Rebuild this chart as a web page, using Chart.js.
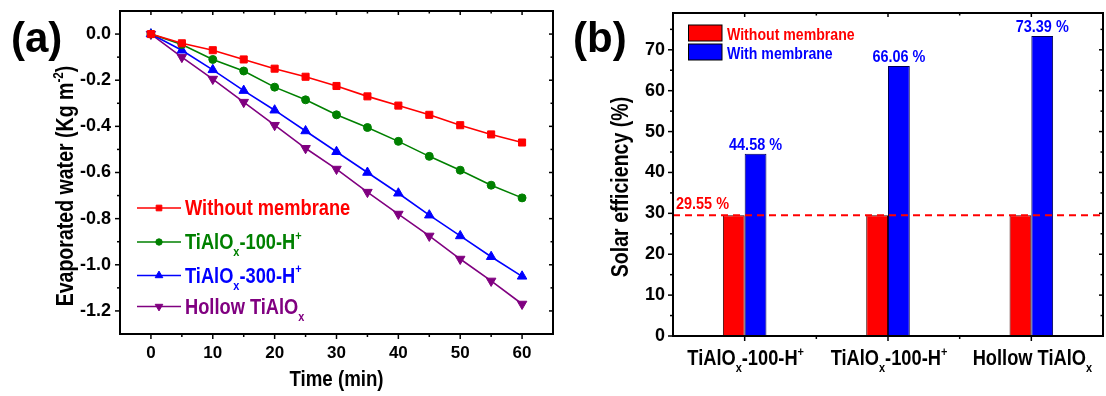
<!DOCTYPE html>
<html><head><meta charset="utf-8">
<script src="https://cdn.jsdelivr.net/npm/chart.js@4.4.1/dist/chart.umd.min.js"></script>
<style>
html,body{margin:0;padding:0;background:#fff;}
#wrap{position:relative;width:1106px;height:396px;overflow:hidden;background:#fff;}
canvas{position:absolute;top:0;}
</style>
</head><body>
<div id="wrap">
<canvas id="ca" width="560" height="396" style="left:0"></canvas>
<canvas id="cb" width="546" height="396" style="left:560px"></canvas>
</div>
<script>
// ---------- data (panel a) ----------
const times = [0, 5, 10, 15, 20, 25, 30, 35, 40, 45, 50, 55, 60];
const withoutMembrane = [0, -0.04, -0.07, -0.11, -0.15, -0.185, -0.225, -0.27, -0.31, -0.35, -0.395, -0.435, -0.47];
const tialox100 = [0, -0.045, -0.11, -0.16, -0.23, -0.285, -0.35, -0.405, -0.465, -0.53, -0.59, -0.655, -0.71];
const tialox300 = [0, -0.07, -0.155, -0.245, -0.33, -0.42, -0.51, -0.6, -0.69, -0.785, -0.875, -0.965, -1.05];
const hollowTialox = [0, -0.1, -0.195, -0.295, -0.395, -0.495, -0.585, -0.685, -0.78, -0.875, -0.975, -1.07, -1.17];
const seriesNames = ['Without membrane', 'TiAlO_x-100-H^+', 'TiAlO_x-300-H^+', 'Hollow TiAlO_x'];
const xTickValues = [0, 10, 20, 30, 40, 50, 60];
const yTickValues = [0, -0.2, -0.4, -0.6, -0.8, -1.0, -1.2];

// ---------- data (panel b) ----------
const barCategories = ['TiAlO_x-100-H^+', 'TiAlO_x-100-H^+', 'Hollow TiAlO_x'];
const barSeriesNames = ['Without membrane', 'With membrane'];
const effWithout = [29.55, 29.55, 29.55];
const effWith = [44.58, 66.06, 73.39];
const effTickValues = [0, 10, 20, 30, 40, 50, 60, 70];

const FAM = '"Liberation Sans", Arial, Helvetica, sans-serif';
Chart.defaults.font.family = FAM;
Chart.defaults.color = '#000';

// ---------- rich text helpers ----------
function richSegs(s) {
  const segs = []; let buf = ''; let i = 0;
  while (i < s.length) {
    const c = s[i];
    if ((c === '_' || c === '^') && i + 1 < s.length) {
      if (buf) { segs.push({ t: buf, m: 0 }); buf = ''; }
      let t;
      if (s[i + 1] === '{') { const j = s.indexOf('}', i); t = s.slice(i + 2, j); i = j + 1; }
      else { t = s[i + 1]; i += 2; }
      segs.push({ t, m: c === '_' ? 1 : -1 });
    } else { buf += c; i++; }
  }
  if (buf) segs.push({ t: buf, m: 0 });
  return segs;
}
function drawRich(ctx, s, x, y, size, color, align, sx) {
  const segs = richSegs(s);
  ctx.save();
  ctx.translate(x, y);
  ctx.scale(sx, 1);
  ctx.fillStyle = color;
  ctx.textBaseline = 'alphabetic';
  ctx.textAlign = 'left';
  let w = 0;
  for (const g of segs) { ctx.font = 'bold ' + (g.m ? size * 0.6 : size) + 'px ' + FAM; w += ctx.measureText(g.t).width; }
  let cx = align === 'center' ? -w / 2 : (align === 'right' ? -w : 0);
  for (const g of segs) {
    ctx.font = 'bold ' + (g.m ? size * 0.6 : size) + 'px ' + FAM;
    const dy = g.m === 1 ? size * 0.32 : (g.m === -1 ? -size * 0.42 : 0);
    ctx.fillText(g.t, cx, dy);
    cx += ctx.measureText(g.t).width;
  }
  ctx.restore();
}
function drawRotated(ctx, s, x, y, size, color, sx) {
  ctx.save(); ctx.translate(x, y); ctx.rotate(-Math.PI / 2);
  drawRich(ctx, s, 0, 0, size, color, 'center', sx);
  ctx.restore();
}
function mids(arr) { const r = []; for (let i = 0; i < arr.length - 1; i++) r.push((arr[i] + arr[i + 1]) / 2); return r; }
function noPad(s) { s.paddingTop = 0; s.paddingBottom = 0; s.paddingLeft = 0; s.paddingRight = 0; }

// ---------- frame plugin ----------
const framePlugin = {
  id: 'frame',
  afterDraw(chart, args, o) {
    const ctx = chart.ctx, a = chart.chartArea;
    const xs = chart.scales.x, ys = chart.scales.y;
    ctx.save();
    ctx.strokeStyle = '#000';
    ctx.lineWidth = 2;
    ctx.strokeRect(a.left, a.top, a.right - a.left, a.bottom - a.top);
    ctx.lineWidth = 1.5;
    const tick = (x1, y1, x2, y2) => { ctx.beginPath(); ctx.moveTo(x1, y1); ctx.lineTo(x2, y2); ctx.stroke(); };
    o.xMajor.forEach(v => { const p = xs.getPixelForValue(v); tick(p, a.bottom, p, a.bottom + 5); tick(p, a.top, p, a.top + 4); });
    o.xMinor.forEach(v => { const p = xs.getPixelForValue(v); tick(p, a.bottom, p, a.bottom + 3); tick(p, a.top, p, a.top + 2.5); });
    o.yMajor.forEach(v => { const p = ys.getPixelForValue(v); tick(a.left - 5, p, a.left, p); tick(a.right - 4, p, a.right, p); });
    o.yMinor.forEach(v => { const p = ys.getPixelForValue(v); tick(a.left - 3, p, a.left, p); tick(a.right - 2.5, p, a.right, p); });
    ctx.restore();
  }
};

// ---------- panel (a) ----------
const colorsA = ['#FF0000', '#008000', '#0000FF', '#800080'];
const stylesA = [
  { pointStyle: 'rect', radius: 5, rotation: 0 },
  { pointStyle: 'circle', radius: 4, rotation: 0 },
  { pointStyle: 'triangle', radius: 5.5, rotation: 0 },
  { pointStyle: 'triangle', radius: 5.5, rotation: 180 }
];
const seriesA = [withoutMembrane, tialox100, tialox300, hollowTialox];

const legendA = {
  id: 'legendA',
  afterDraw(chart) {
    const ctx = chart.ctx;
    const y0 = [208, 242, 275.5, 306.5];
    chart.data.datasets.forEach((ds, i) => {
      const y = y0[i];
      ctx.save();
      ctx.strokeStyle = ds.borderColor; ctx.lineWidth = 1.6;
      ctx.beginPath(); ctx.moveTo(137, y); ctx.lineTo(181, y); ctx.stroke();
      ctx.fillStyle = ds.borderColor; ctx.strokeStyle = ds.borderColor; ctx.lineWidth = 1;
      Chart.helpers.drawPoint(ctx, { pointStyle: ds.pointStyle, radius: ds.pointRadius * 0.8, rotation: ds.pointRotation, borderWidth: 1 }, 159, y);
      ctx.restore();
      drawRich(ctx, ds.label, 185, y + 7, 22, ds.borderColor, 'left', 0.83);
    });
  }
};
const textA = {
  id: 'textA',
  afterDraw(chart) {
    const ctx = chart.ctx, a = chart.chartArea;
    ctx.save();
    ctx.fillStyle = '#000'; ctx.font = 'bold 42px ' + FAM; ctx.textBaseline = 'alphabetic'; ctx.textAlign = 'left';
    ctx.fillText('(a)', 11, 52);
    ctx.restore();
    drawRotated(ctx, 'Evaporated water (Kg m^{-2})', 73, 186, 23, '#000', 0.85);
    drawRich(ctx, 'Time (min)', (a.left + a.right) / 2, 386, 22, '#000', 'center', 0.85);
  }
};

new Chart(document.getElementById('ca'), {
  type: 'line',
  data: {
    datasets: seriesA.map((arr, i) => ({
      label: seriesNames[i],
      data: times.map((t, k) => ({ x: t, y: arr[k] })),
      borderColor: colorsA[i],
      backgroundColor: colorsA[i],
      borderWidth: 1.6,
      pointStyle: stylesA[i].pointStyle,
      pointRadius: stylesA[i].radius,
      pointRotation: stylesA[i].rotation,
      pointBorderWidth: 1,
      tension: 0
    }))
  },
  options: {
    responsive: false, animation: false, devicePixelRatio: 1,
    layout: { padding: { left: 0, right: 7, top: 11, bottom: 0 } },
    plugins: {
      legend: { display: false }, tooltip: { enabled: false },
      frame: { xMajor: xTickValues, xMinor: mids(xTickValues), yMajor: yTickValues, yMinor: mids(yTickValues) }
    },
    scales: {
      x: {
        type: 'linear', min: -5, max: 65,
        afterBuildTicks: s => { s.ticks = xTickValues.map(v => ({ value: v })); },
        afterFit: s => { s.height = 62; noPad(s); },
        grid: { display: false, drawTicks: false }, border: { display: false },
        ticks: { font: { size: 17, weight: 'bold' }, color: '#000', padding: 9, maxRotation: 0, callback: v => String(v) }
      },
      y: {
        type: 'linear', min: -1.3, max: 0.1,
        afterBuildTicks: s => { s.ticks = yTickValues.map(v => ({ value: v })); },
        afterFit: s => { s.width = 120; noPad(s); },
        grid: { display: false, drawTicks: false }, border: { display: false },
        ticks: { font: { size: 18, weight: 'bold' }, color: '#000', padding: 9, callback: v => v.toFixed(1) }
      }
    }
  },
  plugins: [framePlugin, legendA, textA]
});

// ---------- panel (b) ----------
const barColors = ['#FF0000', '#0000FF'];
const barBorders = ['#3a0000', '#000050'];

const barDecor = {
  id: 'barDecor',
  afterDatasetsDraw(chart) {
    const ctx = chart.ctx, a = chart.chartArea, ys = chart.scales.y;
    const ly = ys.getPixelForValue(effWithout[0]);
    ctx.save();
    ctx.strokeStyle = '#FF0000'; ctx.lineWidth = 2; ctx.setLineDash([7, 5]);
    ctx.beginPath(); ctx.moveTo(a.left, ly); ctx.lineTo(a.right, ly); ctx.stroke();
    ctx.restore();
    drawRich(ctx, effWithout[0].toFixed(2) + ' %', a.left + 3, ly - 6, 17, '#FF0000', 'left', 0.85);
    const meta = chart.getDatasetMeta(1);
    meta.data.forEach((bar, i) => {
      drawRich(ctx, effWith[i].toFixed(2) + ' %', bar.x, bar.y - 4, 17, '#0000FF', 'center', 0.85);
    });
  },
  afterDraw(chart) {
    const ctx = chart.ctx, a = chart.chartArea, xs = chart.scales.x;
    chart.data.datasets.forEach((ds, i) => {
      const top = i === 0 ? 25 : 44;
      ctx.save();
      ctx.fillStyle = ds.backgroundColor; ctx.fillRect(a.left + 15.5, top, 33.5, 16);
      ctx.strokeStyle = '#000'; ctx.lineWidth = 1; ctx.strokeRect(a.left + 15.5, top, 33.5, 16);
      ctx.restore();
      drawRich(ctx, ds.label, a.left + 54, top + 14.5, 17, ds.backgroundColor, 'left', 0.83);
    });
    chart.data.labels.forEach((lab, i) => {
      drawRich(ctx, lab, xs.getPixelForValue(i) + 1, 365, 22, '#000', 'center', 0.83);
    });
    ctx.save();
    ctx.fillStyle = '#000'; ctx.font = 'bold 42px ' + FAM; ctx.textBaseline = 'alphabetic'; ctx.textAlign = 'left';
    ctx.fillText('(b)', 13, 52);
    ctx.restore();
    drawRotated(ctx, 'Solar efficiency (%)', 628 - 560, 187, 23, '#000', 0.85);
  }
};

new Chart(document.getElementById('cb'), {
  type: 'bar',
  data: {
    labels: barCategories,
    datasets: [
      { label: barSeriesNames[0], data: effWithout, backgroundColor: barColors[0], borderColor: barBorders[0], borderWidth: 1, categoryPercentage: 0.304, barPercentage: 1 },
      { label: barSeriesNames[1], data: effWith, backgroundColor: barColors[1], borderColor: barBorders[1], borderWidth: 1, categoryPercentage: 0.304, barPercentage: 1 }
    ]
  },
  options: {
    responsive: false, animation: false, devicePixelRatio: 1,
    layout: { padding: { left: 0, right: 3, top: 13, bottom: 0 } },
    plugins: {
      legend: { display: false }, tooltip: { enabled: false },
      frame: { xMajor: [0, 1, 2], xMinor: mids([0, 1, 2]), yMajor: effTickValues, yMinor: mids(effTickValues).concat([75]) }
    },
    scales: {
      x: {
        type: 'category', offset: true,
        afterFit: s => { s.height = 60; noPad(s); },
        grid: { display: false, drawTicks: false }, border: { display: false },
        ticks: { display: false }
      },
      y: {
        type: 'linear', min: 0, max: 79,
        afterBuildTicks: s => { s.ticks = effTickValues.map(v => ({ value: v })); },
        afterFit: s => { s.width = 113; noPad(s); },
        grid: { display: false, drawTicks: false }, border: { display: false },
        ticks: { font: { size: 18, weight: 'bold' }, color: '#000', padding: 8, callback: v => String(v) }
      }
    }
  },
  plugins: [framePlugin, barDecor]
});
</script>
</body></html>
